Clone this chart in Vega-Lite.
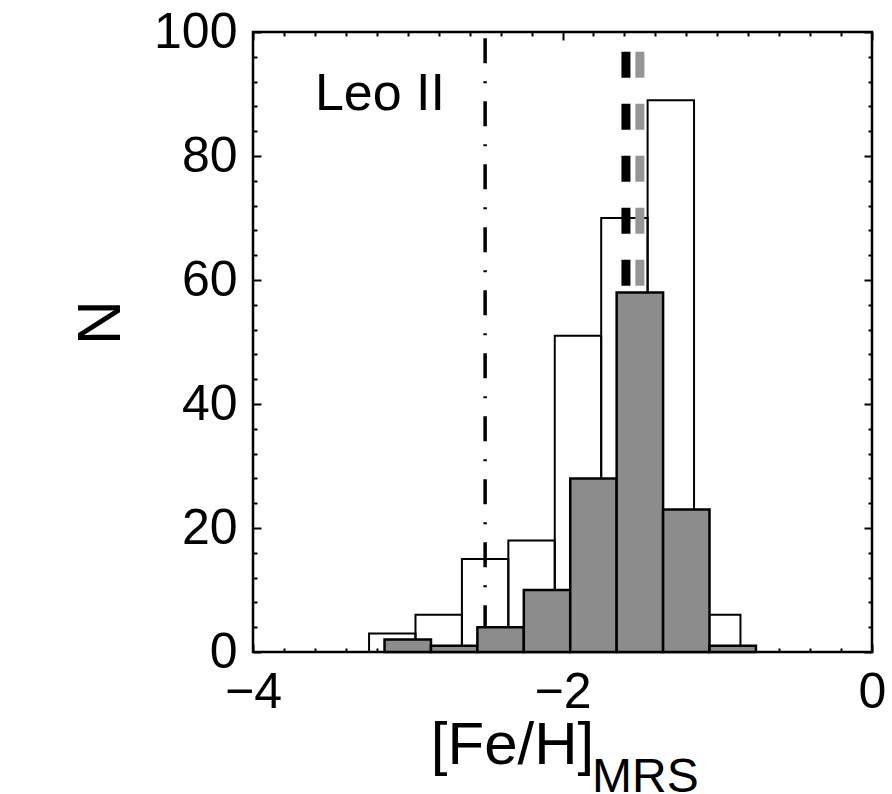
{
  "$schema": "https://vega.github.io/schema/vega-lite/v6.json",
  "width": 619,
  "height": 620,
  "autosize": {"type": "none"},
  "padding": {"left": 253, "top": 32, "right": 20, "bottom": 142},
  "background": "white",
  "config": {
    "view": {"stroke": "black", "strokeWidth": 2.5},
    "font": "Liberation Sans"
  },
  "datasets": {
    "all": [
      {"lo": -3.25, "hi": -2.95, "n": 3},
      {"lo": -2.95, "hi": -2.65, "n": 6},
      {"lo": -2.65, "hi": -2.35, "n": 15},
      {"lo": -2.35, "hi": -2.05, "n": 18},
      {"lo": -2.05, "hi": -1.75, "n": 51},
      {"lo": -1.75, "hi": -1.45, "n": 70},
      {"lo": -1.45, "hi": -1.15, "n": 89},
      {"lo": -1.15, "hi": -0.85, "n": 6}
    ],
    "sub": [
      {"lo": -3.15, "hi": -2.85, "n": 2},
      {"lo": -2.85, "hi": -2.55, "n": 1},
      {"lo": -2.55, "hi": -2.25, "n": 4},
      {"lo": -2.25, "hi": -1.95, "n": 10},
      {"lo": -1.95, "hi": -1.65, "n": 28},
      {"lo": -1.65, "hi": -1.35, "n": 58},
      {"lo": -1.35, "hi": -1.05, "n": 23},
      {"lo": -1.05, "hi": -0.75, "n": 1}
    ]
  },
  "resolve": {"axis": {"x": "independent", "y": "independent"}},
  "layer": [
    {
      "data": {"name": "all"},
      "mark": {"type": "bar", "fill": "white", "fillOpacity": 0, "stroke": "black", "strokeWidth": 2},
      "encoding": {
        "x": {
          "field": "lo", "type": "quantitative",
          "scale": {"domain": [-4, 0], "nice": false, "zero": false},
          "axis": {
            "orient": "bottom",
            "values": [-4, -3.8, -3.6, -3.4, -3.2, -3, -2.8, -2.6, -2.4, -2.2, -2, -1.8, -1.6, -1.4, -1.2, -1, -0.8, -0.6, -0.4, -0.2, 0],
            "tickSize": {"condition": {"test": "abs(datum.value % 2) < 0.001", "value": -8}, "value": -4},
            "tickWidth": 2, "tickColor": "black",
            "domain": false, "grid": false,
            "labelExpr": "abs(datum.value % 2) < 0.001 ? format(datum.value, 'd') : ''",
            "labelFont": "Liberation Sans", "labelFontSize": 50, "labelColor": "black",
            "labelPadding": 23, "labelFlush": false, "labelOverlap": false, "labelBound": false,
            "title": "[Fe/H]",
            "titleFont": "Liberation Sans", "titleFontSize": 60, "titleFontWeight": "normal", "titleColor": "black",
            "titleX": 259, "titleY": 111, "titleAlign": "center", "titleBaseline": "alphabetic"
          }
        },
        "x2": {"field": "hi"},
        "y": {
          "field": "n", "type": "quantitative",
          "scale": {"domain": [0, 100], "nice": false},
          "axis": {
            "orient": "left",
            "values": [0, 4, 8, 12, 16, 20, 24, 28, 32, 36, 40, 44, 48, 52, 56, 60, 64, 68, 72, 76, 80, 84, 88, 92, 96, 100],
            "tickSize": {"condition": {"test": "datum.value % 20 === 0", "value": -8}, "value": -4},
            "tickWidth": 2, "tickColor": "black",
            "domain": false, "grid": false,
            "labelExpr": "datum.value % 20 === 0 ? format(datum.value, 'd') : ''",
            "labelFont": "Liberation Sans", "labelFontSize": 50, "labelColor": "black",
            "labelPadding": 24, "labelFlush": false, "labelOverlap": false, "labelBound": false,
            "title": "N",
            "titleFont": "Liberation Sans", "titleFontSize": 62, "titleFontWeight": "normal", "titleColor": "black",
            "titleX": -153, "titleY": 290, "titleAlign": "center", "titleBaseline": "middle", "titleAngle": 270
          }
        },
        "y2": {"datum": 0}
      }
    },
    {
      "data": {"values": [{"feh": -2.5}]},
      "mark": {"type": "rule", "stroke": "black", "strokeWidth": 3.5, "strokeDash": [25, 18, 2, 18], "strokeDashOffset": 56.7},
      "encoding": {
        "x": {"field": "feh", "type": "quantitative", "axis": null},
        "y": {"datum": 100, "axis": null},
        "y2": {"datum": 0}
      }
    },
    {
      "data": {"values": [{"feh": -1.59}]},
      "mark": {"type": "rule", "stroke": "black", "strokeWidth": 9, "strokeDash": [26, 26], "strokeDashOffset": 32.3},
      "encoding": {
        "x": {"field": "feh", "type": "quantitative", "axis": null},
        "y": {"datum": 100, "axis": null},
        "y2": {"datum": 0}
      }
    },
    {
      "data": {"values": [{"feh": -1.5}]},
      "mark": {"type": "rule", "stroke": "#969696", "strokeWidth": 9, "strokeDash": [26, 26], "strokeDashOffset": 32.3},
      "encoding": {
        "x": {"field": "feh", "type": "quantitative", "axis": null},
        "y": {"datum": 100, "axis": null},
        "y2": {"datum": 0}
      }
    },
    {
      "data": {"name": "sub"},
      "mark": {"type": "bar", "fill": "#8c8c8c", "stroke": "black", "strokeWidth": 2.5},
      "encoding": {
        "x": {
          "field": "lo", "type": "quantitative",
          "axis": {
            "orient": "top",
            "values": [-4, -3.8, -3.6, -3.4, -3.2, -3, -2.8, -2.6, -2.4, -2.2, -2, -1.8, -1.6, -1.4, -1.2, -1, -0.8, -0.6, -0.4, -0.2, 0],
            "tickSize": {"condition": {"test": "abs(datum.value % 2) < 0.001", "value": -8}, "value": -4},
            "tickWidth": 2, "tickColor": "black",
            "domain": false, "grid": false, "labels": false, "title": null
          }
        },
        "x2": {"field": "hi"},
        "y": {
          "field": "n", "type": "quantitative",
          "axis": {
            "orient": "right",
            "values": [0, 4, 8, 12, 16, 20, 24, 28, 32, 36, 40, 44, 48, 52, 56, 60, 64, 68, 72, 76, 80, 84, 88, 92, 96, 100],
            "tickSize": {"condition": {"test": "datum.value % 20 === 0", "value": -8}, "value": -4},
            "tickWidth": 2, "tickColor": "black",
            "domain": false, "grid": false, "labels": false, "title": null
          }
        },
        "y2": {"datum": 0}
      }
    },
    {
      "data": {"values": [{"label": "Leo II", "px": -3.6, "py": 87.5}]},
      "mark": {"type": "text", "font": "Liberation Sans", "fontSize": 52, "align": "left", "baseline": "alphabetic", "color": "black"},
      "encoding": {
        "text": {"field": "label"},
        "x": {"field": "px", "type": "quantitative", "axis": null},
        "y": {"field": "py", "type": "quantitative", "axis": null}
      }
    },
    {
      "data": {"values": [{"label": "MRS", "px": -1.809, "py": -22.6}]},
      "mark": {"type": "text", "font": "Liberation Sans", "fontSize": 48, "align": "left", "baseline": "alphabetic", "color": "black"},
      "encoding": {
        "text": {"field": "label"},
        "x": {"field": "px", "type": "quantitative", "axis": null},
        "y": {"field": "py", "type": "quantitative", "axis": null}
      }
    }
  ]
}
